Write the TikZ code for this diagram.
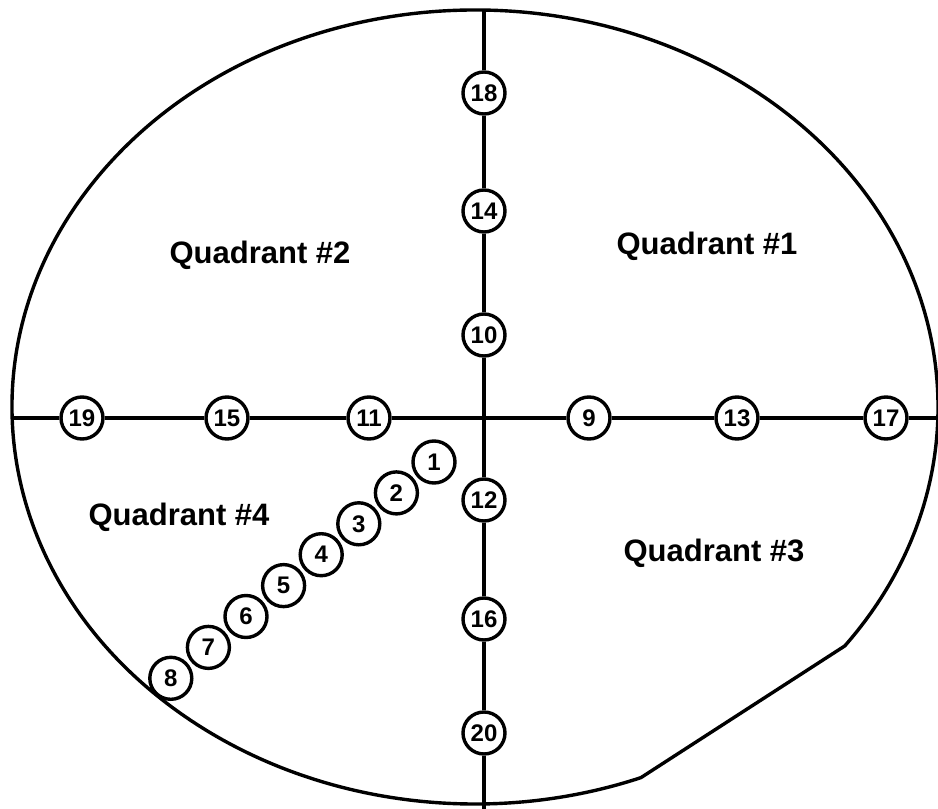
\documentclass[tikz,border=0pt]{standalone}
\usepackage{fontspec}
\setmainfont{Liberation Sans}
\begin{document}
\begin{tikzpicture}[x=1pt, y=1pt, line width=3.4pt,
    site/.style={draw, circle, minimum size=42pt, inner sep=0pt,
        font=\fontsize{24}{24}\selectfont\bfseries},
    quad/.style={anchor=base, font=\fontsize{31}{31}\selectfont\bfseries}]
    \useasboundingbox (0,0) rectangle (938,-809);

    % wafer with its flat
    \draw (475,-407) ++(-37:463 and 397)
        arc[start angle=-37, end angle=291, x radius=463, y radius=397] -- cycle;

    % sites on the axes
    \foreach \n/\x in {19/82,15/227,11/369,9/589,13/737,17/886}
        \node[site] (n\n) at (\x,-418) {\n};
    \foreach \n/\y in {18/93,14/211,10/335,12/500,16/619,20/733}
        \node[site] (n\n) at (484,-\y) {\n};

    % sites on the diagonal
    \foreach \i in {1,...,8}
        \node[site] (n\i) at ({434-37.6*(\i-1)},{-462-30.9*(\i-1)}) {\i};

    \coordinate (wl) at (12,-418);
    \coordinate (wr) at (938,-418);
    \coordinate (wt) at (484,-10);
    \coordinate (wb) at (484,-809);

    \draw (wl) -- (n19) -- (n15) -- (n11) -- (n9) -- (n13) -- (n17) -- (wr);
    \draw (wt) -- (n18) -- (n14) -- (n10) -- (n12) -- (n16) -- (n20) -- (wb);

    \node[quad] (q1) at (707,-254) {Quadrant \#1};
    \node[quad] (q2) at (260,-263) {Quadrant \#2};
    \node[quad] (q3) at (714,-561) {Quadrant \#3};
    \node[quad] (q4) at (179,-525) {Quadrant \#4};
\end{tikzpicture}
\end{document}
